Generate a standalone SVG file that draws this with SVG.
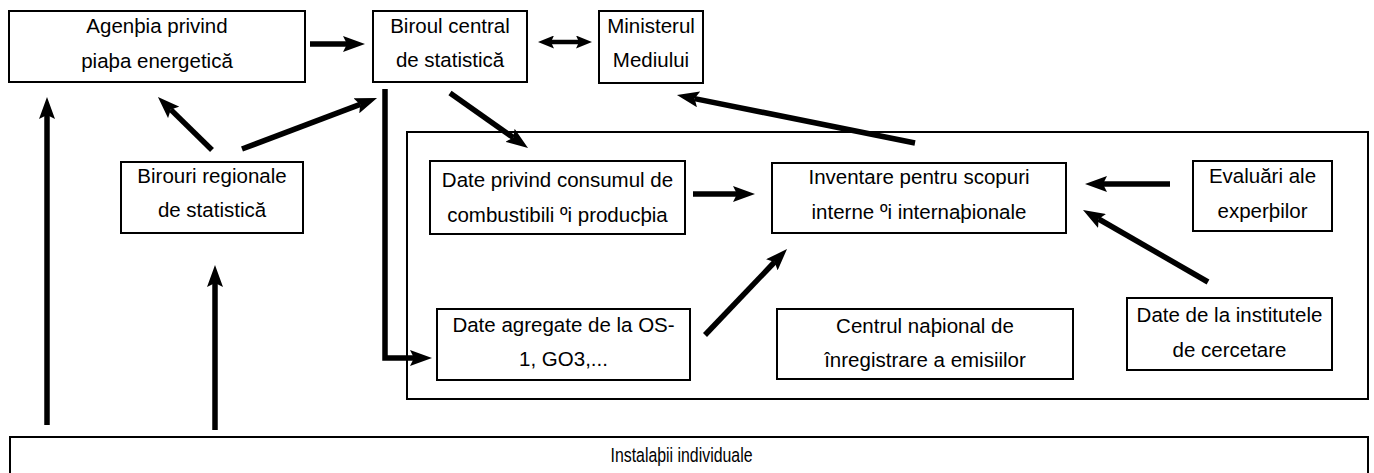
<svg xmlns="http://www.w3.org/2000/svg" width="1374" height="473" viewBox="0 0 1374 473">
<style>
.box{fill:#fff;stroke:#000;stroke-width:2}
.frame{fill:none;stroke:#000;stroke-width:2}
text{font-family:"Liberation Sans",Arial,sans-serif;font-size:20.5px;fill:#000;text-anchor:middle}
.arr{fill:none;stroke:#000;stroke-width:5.5;marker-end:url(#head)}
.dbl{fill:none;stroke:#000;stroke-width:4.5;marker-start:url(#shead);marker-end:url(#shead)}
</style>
<defs>
<marker id="head" markerUnits="userSpaceOnUse" viewBox="0 0 22 16" markerWidth="22" markerHeight="16" refX="4" refY="8" orient="auto">
<path d="M0,0 L22,8 L0,16 L4,8 Z" fill="#000"/>
</marker>
<marker id="shead" markerUnits="userSpaceOnUse" viewBox="0 0 16 13" markerWidth="16" markerHeight="13" refX="3" refY="6.5" orient="auto-start-reverse">
<path d="M0,0 L16,6.5 L0,13 L3,6.5 Z" fill="#000"/>
</marker>
</defs>
<rect width="1374" height="473" fill="#fff"/>
<g id="container">
<rect class="frame" x="407" y="132" width="961" height="267"/>
</g>
<g id="agentia">
<rect class="box" x="9" y="11" width="296" height="71"/>
<text x="157" y="33">Agenþia privind</text>
<text x="157" y="68">piaþa energetică</text>
</g>
<g id="biroul-central">
<rect class="box" x="373" y="11" width="154" height="71"/>
<text x="450" y="33">Biroul central</text>
<text x="450" y="67">de statistică</text>
</g>
<g id="ministerul">
<rect class="box" x="599" y="11" width="104" height="72"/>
<text x="651" y="33">Ministerul</text>
<text x="651" y="67">Mediului</text>
</g>
<g id="birouri-regionale">
<rect class="box" x="121" y="162" width="182" height="71"/>
<text x="212" y="183">Birouri regionale</text>
<text x="212" y="217">de statistică</text>
</g>
<g id="date-privind">
<rect class="box" x="430" y="161" width="255" height="73"/>
<text x="557.5" y="187">Date privind consumul de</text>
<text x="557.5" y="222">combustibili ºi producþia</text>
</g>
<g id="inventare">
<rect class="box" x="772" y="163" width="294" height="70"/>
<text x="919" y="184">Inventare pentru scopuri</text>
<text x="919" y="219">interne ºi internaþionale</text>
</g>
<g id="evaluari">
<rect class="box" x="1193" y="161" width="139" height="70"/>
<text x="1262.5" y="183">Evaluări ale</text>
<text x="1262.5" y="218">experþilor</text>
</g>
<g id="date-agregate">
<rect class="box" x="437" y="309" width="253" height="71"/>
<text x="563.5" y="332">Date agregate de la OS-</text>
<text x="563.5" y="366">1, GO3,...</text>
</g>
<g id="centrul-national">
<rect class="box" x="777" y="309" width="296" height="70"/>
<text x="925" y="333">Centrul naþional de</text>
<text x="925" y="367">înregistrare a emisiilor</text>
</g>
<g id="date-institute">
<rect class="box" x="1127" y="298" width="205" height="72"/>
<text x="1229.5" y="322">Date de la institutele</text>
<text x="1229.5" y="357">de cercetare</text>
</g>
<g id="instalatii">
<rect class="box" x="10" y="437" width="1358" height="40"/>
<text x="681.5" y="462" textLength="142" lengthAdjust="spacingAndGlyphs">Instalaþii individuale</text>
</g>
<g id="connectors">
<line class="arr" x1="310" y1="44" x2="347" y2="44"/>
<line class="dbl" x1="551" y1="42" x2="579" y2="42"/>
<line class="arr" x1="212" y1="150" x2="170.8" y2="109.6"/>
<line class="arr" x1="242" y1="149" x2="360.2" y2="104.4"/>
<line class="arr" x1="47" y1="425" x2="47" y2="115"/>
<line class="arr" x1="215" y1="430" x2="215" y2="283"/>
<polyline class="arr" points="385,89 385,358 414,358"/>
<line class="arr" x1="450" y1="93" x2="513.3" y2="137.6"/>
<line class="arr" x1="693" y1="194" x2="737" y2="194"/>
<line class="arr" x1="915" y1="143" x2="694.6" y2="98.6"/>
<line class="arr" x1="1170" y1="184" x2="1103" y2="184"/>
<line class="arr" x1="1208" y1="282" x2="1098.6" y2="219"/>
<line class="arr" x1="705" y1="335" x2="774.6" y2="262"/>
</g>
</svg>
